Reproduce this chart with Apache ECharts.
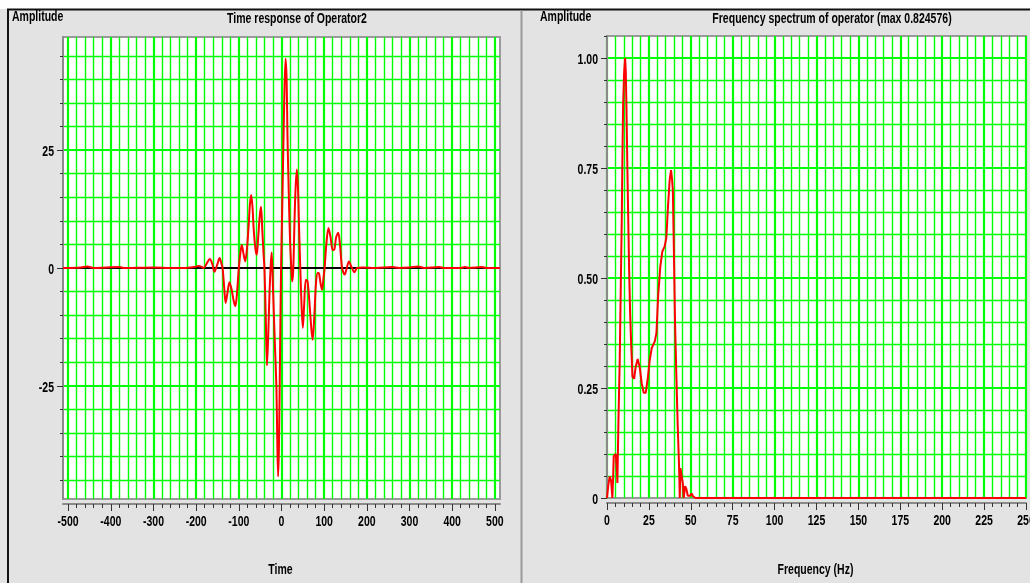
<!DOCTYPE html>
<html>
<head>
<meta charset="utf-8">
<title>Operator2 time response and spectrum</title>
<script src="https://cdn.jsdelivr.net/npm/echarts@6/dist/echarts.min.js"></script>
<style>
  html, body { margin: 0; padding: 0; background: #e3e3e3; }
  #chart { width: 1030px; height: 583px; }
</style>
</head>
<body>
<div id="chart"></div>
<script>
// ---- Time response of Operator2 ----
const timeSamples = [
  -512, -470, -455, -440, -380, -370, -300, -260, -230, -205, -195, -188, -182,
  -175, -168, -162, -157, -151, -145, -141, -138, -134, -131, -127, -122, -117,
  -112, -108, -104, -100, -96, -93, -89, -85, -81, -77, -74, -71, -68, -65, -61,
  -58, -55, -51, -48, -45, -42, -40, -37, -34, -31, -28, -25, -23, -20, -16, -12,
  -10, -8, -6, -3, -1, 1.5, 4, 6.5, 9.5, 12, 14, 17, 20, 23, 25, 27.5, 30.5, 33,
  36, 39, 41, 44, 47, 50, 53, 57, 61, 66, 70, 73, 77, 81, 85, 88, 92, 95, 98, 101,
  105, 110, 115, 120, 124, 128, 133, 137, 142, 148, 153, 158, 164, 171, 177, 190,
  220, 260, 275, 300, 320, 335, 370, 380, 420, 430, 440, 470, 480, 512
];
const timeAmplitude = [
  0, 0.1, 0.3, 0, 0.2, 0, 0.1, 0, 0, 0.2, 0.4, 0.3, 0,
  1.0, 1.9, 0.8, -0.8, 0.6, 2.1, 1.0, 0, -4.5, -7.4, -5.5, -3.0, -4.5,
  -7.0, -8.1, -5, 0, 3.5, 4.9, 3.0, 1.4, 4, 9, 13.5, 15.5, 13, 8, 4,
  2.8, 6, 11, 13.0, 8, 3, 0, -10, -20.7, -14, -5, 1, 3.3, -4, -15, -25,
  -36, -44.2, -38, -15, 0, 12, 24, 36, 44.4, 40, 28, 16, 6, 0, -2.8, -0.5, 10, 17,
  20.9, 16, 9, 0, -8, -12.7, -8, -2.5, -2.8, -8, -13, -15.2, -10, -3, -1.0, -1.2, -3.5, -4.6, -2.5, 0,
  5, 8.5, 6.5, 3.8, 4, 6.5, 7.5, 5, 0, -1.4, 0, 1.4, 0.2, -0.9, 0, 0.1,
  0, 0.2, 0, 0.1, 0.3, 0, 0.2, 0, 0, 0.2, 0, 0.2, 0, 0
];
const timeTicks = [-500, -400, -300, -200, -100, 0, 100, 200, 300, 400, 500];
const timeAmpTicks = [-25, 0, 25];

// ---- Frequency spectrum of operator ----
const freqHz = [
  0, 0.8, 1.6, 2.4, 3.2, 3.6, 4.0, 5.2, 5.8, 6.2, 6.8, 7.6, 8.2, 8.8, 9.2, 9.6,
  10.2, 10.8, 11.2, 11.6, 12.2, 13.2, 13.8, 14.4, 15.2, 16.2, 17.1, 18.3, 19.5,
  20.7, 21.9, 23.1, 24.3, 25.5, 26.7, 28.5, 29.5, 30.5, 31.8, 33.0, 34.4, 35.4,
  36.4, 37.4, 38.2, 38.8, 39.3, 39.8, 40.6, 41.4, 42.2, 43.0, 43.4, 43.8, 44.6,
  45.2, 45.8, 46.6, 47.4, 48.2, 49.5, 50.5, 51.5, 52.9, 250
];
const specAmplitude = [
  0, 0.03, 0.049, 0.04, 0, 0.04, 0.095, 0.1, 0.07, 0.034, 0.17, 0.314, 0.473, 0.632, 0.776, 0.89,
  0.966, 1.0, 0.97, 0.89, 0.739, 0.519, 0.42, 0.352, 0.276, 0.271, 0.298, 0.316, 0.298,
  0.261, 0.239, 0.239, 0.271, 0.314, 0.341, 0.356, 0.375, 0.458, 0.526, 0.56, 0.572, 0.591,
  0.663, 0.723, 0.745, 0.725, 0.70, 0.587, 0.398, 0.276, 0.163, 0.072, 0, 0.068, 0.072,
  0.034, 0, 0.027, 0.02, 0.005, 0.005, 0.01, 0.003, 0, 0
];
const freqTicks = [0, 25, 50, 75, 100, 125, 150, 175, 200, 225, 250];
const specTicks = [0, 0.25, 0.5, 0.75, 1.0];
const specTickLabels = ['0', '0.25', '0.50', '0.75', '1.00'];

// evenly spaced values for the fine grid
function steps(from, to, step) {
  const out = [];
  const n = Math.round((to - from) / step);
  for (let i = 0; i <= n; i++) out.push(Math.round((from + i * step) * 1000) / 1000);
  return out;
}

const FONT_FAMILY = '"Liberation Sans", Arial, sans-serif';
const TEXT_FONT = 'bold 15px ' + FONT_FAMILY;
const NARROW = 0.7;            // horizontal squeeze for the condensed lettering
const GREEN = '#00ff00';
const AXIS_GRAY = '#8a8a8a';

// Axis: line + ticks only (labels are placed as condensed text afterwards)
function tickAxis(gridIndex, min, max, ticks, len, showLine, extra) {
  return Object.assign({
    type: 'value', gridIndex, min, max,
    axisLine: { show: showLine, onZero: false, lineStyle: { color: AXIS_GRAY, width: 2 } },
    axisTick: { show: true, customValues: ticks, length: len, lineStyle: { color: '#333', width: 1 } },
    axisLabel: { show: false },
    splitLine: { show: false },
    z: 3
  }, extra);
}

// Grid lines drawn through the axes' own scales
function gridLines(xFine, xMajor, yFine, yMajor) {
  const items = [];
  const minor = { color: GREEN, width: 1.4, type: 'solid' };
  const major = { color: GREEN, width: 2.2, type: 'solid' };
  xFine.forEach(v => items.push({ xAxis: v, lineStyle: xMajor.includes(v) ? major : minor }));
  yFine.forEach(v => items.push({ yAxis: v, lineStyle: yMajor.includes(v) ? major : minor }));
  return items;
}

const chart = echarts.init(document.getElementById('chart'), null, { renderer: 'canvas' });

const timeGrid = gridLines(steps(-500, 500, 20), timeTicks, steps(-45, 45, 5), timeAmpTicks);
timeGrid.push({ yAxis: 0, lineStyle: { color: '#000', width: 2, type: 'solid' } });
const specGrid = gridLines(steps(0, 250, 5), freqTicks, steps(0.05, 1.0, 0.05), specTicks);

chart.setOption({
  animation: false,
  backgroundColor: '#e3e3e3',
  grid: [
    { left: 63, top: 37, width: 437, height: 462, show: true, backgroundColor: '#ffffff', borderColor: '#9a9a9a', borderWidth: 2 },
    { left: 607, top: 36, width: 419, height: 462, show: true, backgroundColor: '#ffffff', borderColor: '#9a9a9a', borderWidth: 2 }
  ],
  xAxis: [
    tickAxis(0, -512, 512, timeTicks, 7, true, { position: 'bottom', offset: 5 }),
    tickAxis(0, -512, 512, steps(-500, 500, 20), 4, false, { position: 'bottom', offset: 5 }),
    tickAxis(1, 0, 250, freqTicks, 7, true, { position: 'bottom', offset: 5 }),
    tickAxis(1, 0, 250, steps(0, 250, 5), 4, false, { position: 'bottom', offset: 5 })
  ],
  yAxis: [
    tickAxis(0, -49, 49, timeAmpTicks, 6, true, { position: 'left' }),
    tickAxis(0, -49, 49, steps(-45, 45, 5), 3, false, { position: 'left' }),
    tickAxis(1, 0, 1.05, specTicks, 6, true, { position: 'left' }),
    tickAxis(1, 0, 1.05, steps(0, 1.05, 0.05), 3, false, { position: 'left' })
  ],
  series: [
    {
      type: 'line', name: 'Time response', xAxisIndex: 0, yAxisIndex: 0,
      data: timeSamples.map((t, i) => [t, timeAmplitude[i]]),
      showSymbol: false, smooth: 0.3, clip: false, z: 5,
      lineStyle: { color: '#ff0000', width: 2 },
      markLine: {
        silent: true, symbol: 'none', z: 1, animation: false, precision: 4,
        label: { show: false }, emphasis: { disabled: true },
        data: timeGrid
      }
    },
    {
      type: 'line', name: 'Spectrum', xAxisIndex: 2, yAxisIndex: 2,
      data: freqHz.map((f, i) => [f, specAmplitude[i]]),
      showSymbol: false, smooth: false, clip: false, z: 5,
      lineStyle: { color: '#ff0000', width: 2 },
      markLine: {
        silent: true, symbol: 'none', z: 1, animation: false, precision: 4,
        label: { show: false }, emphasis: { disabled: true },
        data: specGrid
      }
    }
  ]
});

// ---- frame, titles and condensed tick labels ----
function text(str, x, y, align, vAlign) {
  return {
    type: 'text', x, y, scaleX: NARROW, silent: true, z: 10,
    style: { text: str, fill: '#000', font: TEXT_FONT, textAlign: align || 'center', textVerticalAlign: vAlign || 'middle' }
  };
}
const px = (finder, v) => chart.convertToPixel(finder, v);

const g = [
  { type: 'rect', shape: { x: 0, y: 0, width: 1030, height: 9 }, style: { fill: '#ffffff' }, silent: true },
  { type: 'line', shape: { x1: 7, y1: 9.5, x2: 1030, y2: 9.5 }, style: { stroke: '#111', lineWidth: 2 }, silent: true },
  { type: 'line', shape: { x1: 8, y1: 9, x2: 8, y2: 583 }, style: { stroke: '#111', lineWidth: 2 }, silent: true },
  { type: 'line', shape: { x1: 521.5, y1: 10.5, x2: 521.5, y2: 583 }, style: { stroke: '#9a9a9a', lineWidth: 2 }, silent: true },
  text('Time response of Operator2', 297, 19),
  text('Amplitude', 12, 17, 'left'),
  text('Frequency spectrum of operator (max 0.824576)', 832, 19),
  text('Amplitude', 540, 17, 'left')
];

const timeBottom = px({ yAxisIndex: 0 }, -49);
const specBottom = px({ yAxisIndex: 2 }, 0);
timeTicks.forEach(v => g.push(text(String(v), px({ xAxisIndex: 0 }, v), timeBottom + 23)));
freqTicks.forEach(v => g.push(text(String(v), px({ xAxisIndex: 2 }, v), specBottom + 23)));
timeAmpTicks.forEach(v => g.push(text(String(v), 54, px({ yAxisIndex: 0 }, v) + 2, 'right')));
specTicks.forEach((v, i) => g.push(text(specTickLabels[i], 598, px({ yAxisIndex: 2 }, v) + 2, 'right')));

const timeMid = (px({ xAxisIndex: 0 }, -512) + px({ xAxisIndex: 0 }, 512)) / 2;
const specMid = (px({ xAxisIndex: 2 }, 0) + px({ xAxisIndex: 2 }, 250)) / 2;
g.push(text('Time', timeMid - 1, 570));
g.push(text('Frequency (Hz)', specMid - 1, 570));

chart.setOption({ graphic: g });
</script>
</body>
</html>
